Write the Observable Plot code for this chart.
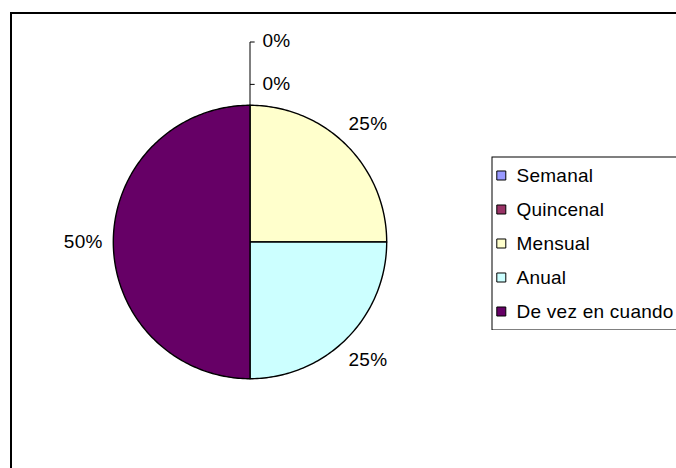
<!DOCTYPE html>
<html><head><meta charset="utf-8">
<script src="https://cdn.jsdelivr.net/npm/d3@7"></script>
<script src="https://cdn.jsdelivr.net/npm/@observablehq/plot@0.6"></script>
<style>
html,body{margin:0;padding:0;background:#fff;overflow:hidden;width:676px;height:468px}
#wrap{position:relative;width:676px;height:468px;overflow:hidden;font-family:"Liberation Sans",Arial,sans-serif}
#border{position:absolute;left:10px;top:12px;width:720px;height:520px;border:2px solid #000;box-sizing:border-box}
#chart{position:absolute;left:0;top:0;width:676px}
#legend{position:absolute;left:491px;top:156px;width:200px}
#wrap svg{max-width:none !important}
svg text{letter-spacing:0.25px}
</style></head><body><div id="wrap"><div id="border"></div><div id="chart"></div><div id="legend"></div></div>
<script>
const categories = ["Semanal", "Quincenal", "Mensual", "Anual", "De vez en cuando"];
const values = [0, 0, 25, 25, 50];
const labels = ["0%", "0%", "25%", "25%", "50%"];
const colors = ["#9999FF", "#993366", "#FFFFCC", "#CCFFFF", "#660066"];

const R = 136.7, cx = 249.5, cy = 241.5;
const arcs = d3.pie().sort(null).value(d => d)(values);

const slicePts = [];
arcs.forEach((a, i) => {
  const span = a.endAngle - a.startAngle;
  if (span <= 0) return;
  slicePts.push({cat: categories[i], x: 0, y: 0});
  const n = Math.max(2, Math.ceil(span / (Math.PI / 180)));
  for (let k = 0; k <= n; k++) {
    const t = a.startAngle + span * k / n;
    slicePts.push({cat: categories[i], x: Math.sin(t), y: Math.cos(t)});
  }
});

const labelR = 1.22;
const zeroIdx = values.map((v, i) => v === 0 ? i : -1).filter(i => i >= 0);
const zeroStep = 0.31, zeroBase = 1.16;
const labelData = arcs.map((a, i) => {
  const mid = (a.startAngle + a.endAngle) / 2;
  if (values[i] === 0) {
    const k = zeroIdx.indexOf(i);
    return {label: labels[i], x: 0.194, y: zeroBase + (zeroIdx.length - 1 - k) * zeroStep, zero: true};
  }
  return {label: labels[i], x: labelR * Math.sin(mid), y: labelR * Math.cos(mid), zero: false};
});
const zeroLabels = labelData.filter(d => d.zero);
const leaderTop = d3.max(zeroLabels, d => d.y) - 0.007;

const font = "Liberation Sans, Arial, sans-serif";
const fs = 19;

const chart = Plot.plot({
  width: 676, height: 468, margin: 0,
  x: {domain: [-1, 1], range: [cx - R, cx + R], axis: null},
  y: {domain: [-1, 1], range: [cy + R, cy - R], axis: null},
  color: {domain: categories, range: colors},
  style: {fontFamily: font, background: "transparent", overflow: "visible"},
  marks: [
    Plot.line(slicePts, {x: "x", y: "y", z: "cat", fill: "cat", stroke: "black", strokeWidth: 1.4, curve: "linear-closed", strokeLinejoin: "round"}),
    zeroLabels.length ? Plot.link([{}], {x1: 0, y1: 1, x2: 0, y2: leaderTop, stroke: "black", strokeWidth: 1}) : null,
    Plot.link(zeroLabels, {x1: 0, y1: d => d.y - 0.007, x2: 0.034, y2: d => d.y - 0.007, stroke: "black", strokeWidth: 1}),
    Plot.text(labelData, {x: "x", y: "y", text: "label", fill: "black", fontSize: fs})
  ]
});
document.getElementById("chart").appendChild(chart);

const legend = Plot.plot({
  width: 200, height: 174, margin: 0,
  x: {domain: [0, 1], range: [9.8, 190], axis: null},
  y: {type: "point", domain: categories, range: [18.5, 154.5], padding: 0, axis: null},
  color: {domain: categories, range: colors},
  style: {fontFamily: font, background: "transparent"},
  marks: [
    Plot.frame({stroke: "black", strokeWidth: 1, inset: 0.5}),
    Plot.dot(categories, {x: () => 0, y: d => d, symbol: "square", r: 5.08, fill: d => d, stroke: "black", strokeWidth: 1}),
    Plot.text(categories, {x: () => 0, y: d => d, text: d => d, textAnchor: "start", dx: 15.2, fill: "black", fontSize: fs})
  ]
});
document.getElementById("legend").appendChild(legend);
</script></body></html>
